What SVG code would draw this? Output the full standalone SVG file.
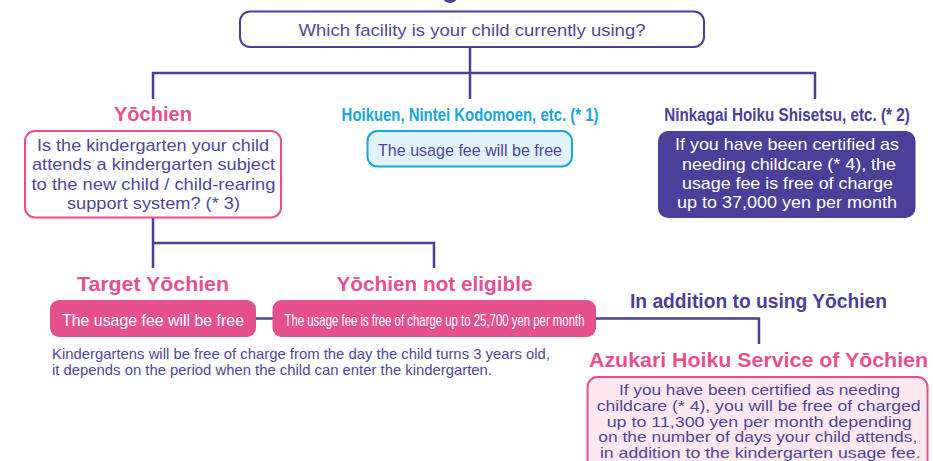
<svg xmlns="http://www.w3.org/2000/svg" width="933" height="461" viewBox="0 0 933 461">
<style>
.t{font-family:"Liberation Sans","DejaVu Sans",sans-serif;font-size:17px;fill:#4f469c;text-anchor:middle}
.s{font-size:15px}
.w{fill:#ffffff}
.h{font-family:"Liberation Sans","DejaVu Sans",sans-serif;font-size:20px;font-weight:bold;text-anchor:middle}
.c{font-size:18px}
.pk{fill:#e6508f}
.pu{fill:#4c3f99}
.cy{fill:#1aa5e0}
.con{fill:none;stroke:#4c3f99;stroke-width:2.5}
.fn{font-family:"Liberation Sans","DejaVu Sans",sans-serif;font-size:15px;fill:#4f469c}
</style>
<rect width="933" height="461" fill="#ffffff"/>
<ellipse cx="450" cy="-3" rx="7" ry="6" fill="#4c3f99"/>
<g id="connectors" class="con">
<path d="M470 47V73M153 99V73H815V99M470 73V99"/>
<path d="M153 218V268M153 243H434V268"/>
<path d="M256 318.5H273"/>
<path d="M596 318.5H759V344"/>
</g>
<g id="question">
<rect x="240" y="11.5" width="464" height="35.5" rx="10" fill="#ffffff" stroke="#4c3f99" stroke-width="2"/>
<text class="t" x="472" y="36" textLength="347" lengthAdjust="spacingAndGlyphs">Which facility is your child currently using?</text>
</g>
<g id="yochien">
<text class="h pk" x="153" y="121" textLength="78" lengthAdjust="spacingAndGlyphs">Yōchien</text>
<rect x="25" y="131" width="256" height="86.5" rx="10" fill="#ffffff" stroke="#e6508f" stroke-width="2"/>
<text class="t" x="153" y="151" textLength="232" lengthAdjust="spacingAndGlyphs">Is the kindergarten your child</text>
<text class="t" x="153.5" y="170" textLength="243" lengthAdjust="spacingAndGlyphs">attends a kindergarten subject</text>
<text class="t" x="153.5" y="189.5" textLength="244" lengthAdjust="spacingAndGlyphs">to the new child / child-rearing</text>
<text class="t" x="153.5" y="209" textLength="173" lengthAdjust="spacingAndGlyphs">support system? (* 3)</text>
</g>
<g id="hoikuen">
<text class="h c cy" transform="translate(470 121) scale(0.8 1)" x="0" y="0" textLength="321" lengthAdjust="spacingAndGlyphs">Hoikuen, Nintei Kodomoen, etc. (* 1)</text>
<rect x="367.5" y="131" width="204.5" height="35.5" rx="10" fill="#e3f3fc" stroke="#1aa5e0" stroke-width="2"/>
<text class="t" x="470" y="155.5" textLength="184" lengthAdjust="spacingAndGlyphs">The usage fee will be free</text>
</g>
<g id="ninkagai">
<text class="h c pu" transform="translate(787 121) scale(0.8 1)" x="0" y="0" textLength="307" lengthAdjust="spacingAndGlyphs">Ninkagai Hoiku Shisetsu, etc. (* 2)</text>
<rect x="658" y="131" width="257.5" height="87" rx="10" fill="#4c3f99"/>
<text class="t w" x="787" y="150" textLength="224" lengthAdjust="spacingAndGlyphs">If you have been certified as</text>
<text class="t w" x="789" y="170" textLength="214" lengthAdjust="spacingAndGlyphs">needing childcare (* 4), the</text>
<text class="t w" x="787.5" y="189" textLength="211" lengthAdjust="spacingAndGlyphs">usage fee is free of charge</text>
<text class="t w" x="787" y="208" textLength="220" lengthAdjust="spacingAndGlyphs">up to 37,000 yen per month</text>
</g>
<g id="target">
<text class="h pk" x="153" y="291" textLength="152" lengthAdjust="spacingAndGlyphs">Target Yōchien</text>
<rect x="50" y="300" width="206" height="37" rx="9" fill="#e6508f"/>
<text class="t w" x="153" y="326" textLength="182" lengthAdjust="spacingAndGlyphs">The usage fee will be free</text>
</g>
<g id="noteligible">
<text class="h pk" x="434.5" y="291" textLength="196" lengthAdjust="spacingAndGlyphs">Yōchien not eligible</text>
<rect x="272.5" y="300" width="323.5" height="37" rx="9" fill="#e6508f"/>
<text class="t w" x="434.5" y="326" font-size="16" textLength="300" lengthAdjust="spacingAndGlyphs">The usage fee is free of charge up to 25,700 yen per month</text>
</g>
<g id="footnote">
<text class="fn" x="52" y="359" textLength="498" lengthAdjust="spacingAndGlyphs">Kindergartens will be free of charge from the day the child turns 3 years old,</text>
<text class="fn" x="52" y="375" textLength="440" lengthAdjust="spacingAndGlyphs">it depends on the period when the child can enter the kindergarten.</text>
</g>
<g id="addition">
<text class="h pu" x="758.5" y="308" textLength="257" lengthAdjust="spacingAndGlyphs">In addition to using Yōchien</text>
</g>
<g id="azukari">
<text class="h pk" x="758.5" y="367" textLength="339" lengthAdjust="spacingAndGlyphs">Azukari Hoiku Service of Yōchien</text>
<rect x="587.5" y="377" width="340" height="100" rx="10" fill="#fde8f0" stroke="#e6508f" stroke-width="2"/>
<text class="t s" x="759.5" y="395" textLength="281" lengthAdjust="spacingAndGlyphs">If you have been certified as needing</text>
<text class="t s" x="758.7" y="410.7" textLength="324" lengthAdjust="spacingAndGlyphs">childcare (* 4), you will be free of charged</text>
<text class="t s" x="759.2" y="426.7" textLength="305" lengthAdjust="spacingAndGlyphs">up to 11,300 yen per month depending</text>
<text class="t s" x="757.8" y="442" textLength="319" lengthAdjust="spacingAndGlyphs">on the number of days your child attends,</text>
<text class="t s" x="760.3" y="457.7" textLength="320.7" lengthAdjust="spacingAndGlyphs">in addition to the kindergarten usage fee.</text>
</g>
</svg>
